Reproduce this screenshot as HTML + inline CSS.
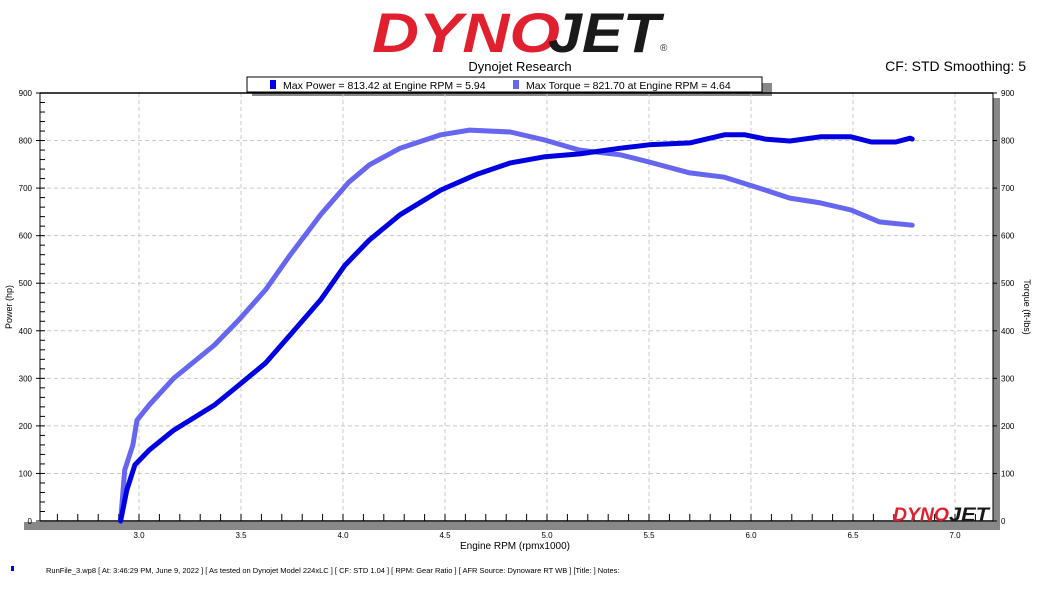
<!DOCTYPE html>
<html><head><meta charset="utf-8"><style>
body{margin:0;background:#fff;width:1041px;height:585px;overflow:hidden;font-family:"Liberation Sans",sans-serif}
svg text{font-family:"Liberation Sans",sans-serif}
</style></head><body>
<svg id="chart" width="1041" height="585">
<g>
<text x="372" y="52" font-size="56" font-weight="bold" font-style="italic" fill="#e0202e" textLength="188" lengthAdjust="spacingAndGlyphs">DYNO</text>
<text x="548" y="52" font-size="56" font-weight="bold" font-style="italic" fill="#1a1a1a" textLength="112" lengthAdjust="spacingAndGlyphs">JET</text>
<text x="660" y="51" font-size="10" fill="#333">®</text>
</g>
<text x="520" y="71" font-size="13" text-anchor="middle">Dynojet Research</text>
<text x="1026" y="71" font-size="14" text-anchor="end">CF: STD Smoothing: 5</text>
<g>
<rect x="252" y="83" width="520" height="13" fill="#888"/>
<rect x="247" y="77" width="515" height="15" fill="#fff" stroke="#000"/>
<rect x="270" y="80" width="6" height="9" fill="#0000ee"/>
<text x="283" y="89" font-size="10.5">Max Power = 813.42 at Engine RPM = 5.94</text>
<rect x="513" y="80" width="6" height="9" fill="#6666f0"/>
<text x="526" y="89" font-size="10.5">Max Torque = 821.70 at Engine RPM = 4.64</text>
</g>
<rect x="24" y="522" width="976" height="8" fill="#888"/>
<rect x="993" y="98" width="7" height="432" fill="#888"/>
<g id="grid"></g>
<g id="axes"></g>
<g id="series"></g>
<g>
<text x="893" y="521" font-size="19" font-weight="bold" font-style="italic" fill="#e0202e" textLength="56" lengthAdjust="spacingAndGlyphs">DYNO</text>
<text x="949" y="521" font-size="19" font-weight="bold" font-style="italic" fill="#1a1a1a" textLength="40" lengthAdjust="spacingAndGlyphs">JET</text>
</g>
<text x="515" y="549" font-size="10" text-anchor="middle">Engine RPM (rpmx1000)</text>
<text transform="translate(12,307) rotate(-90)" font-size="9" text-anchor="middle">Power (hp)</text>
<text transform="translate(1024,307) rotate(90)" font-size="9" text-anchor="middle">Torque (ft-lbs)</text>
<rect x="11" y="566" width="3" height="5" fill="#0000ee"/>
<text x="46" y="573" font-size="7.5">RunFile_3.wp8  [  At:  3:46:29 PM, June 9, 2022  ]  [  As tested on Dynojet Model 224xLC  ]  [  CF:  STD 1.04  ]  [  RPM:  Gear Ratio  ]  [  AFR Source:  Dynoware RT WB  ]  [Title:  ]   Notes:</text>
</svg>
<script>
const xTicks=[3.0,3.5,4.0,4.5,5.0,5.5,6.0,6.5,7.0];
const yTicks=[0,100,200,300,400,500,600,700,800,900];
const powerRpm=[2.91,2.94,2.98,3.05,3.17,3.37,3.49,3.62,3.74,3.89,4.01,4.13,4.28,4.48,4.65,4.82,4.99,5.16,5.36,5.50,5.70,5.87,5.97,6.07,6.19,6.34,6.49,6.59,6.71,6.78,6.79];
const powerHp=[0,65,118,149,191,244,286,332,391,465,538,591,644,696,728,753,766,772,784,791,795,812,812,803,799,808,808,797,797,805,803];
const torqueRpm=[2.91,2.93,2.97,2.99,3.05,3.17,3.37,3.49,3.62,3.74,3.89,4.03,4.13,4.28,4.48,4.62,4.82,4.99,5.16,5.36,5.50,5.70,5.87,6.04,6.19,6.34,6.49,6.63,6.79];
const torqueFtlb=[0,107,160,212,244,300,370,423,486,559,644,713,749,784,812,822,818,801,780,770,755,732,723,700,679,669,654,629,622];
const NS='http://www.w3.org/2000/svg';
const L=40,R=993,T=93,B=521;
const sx=v=>139+(v-3)*204;
const sy=v=>B-(v/900)*(B-T);
function mk(t,a,p){const e=document.createElementNS(NS,t);for(const k in a)e.setAttribute(k,a[k]);p.appendChild(e);return e;}
const grid=document.getElementById('grid'),axes=document.getElementById('axes'),ser=document.getElementById('series');
yTicks.forEach(v=>{
 if(v>0){const g=mk('line',{x1:L,x2:R,y1:sy(v),y2:sy(v),stroke:'#c8c8c8','stroke-dasharray':'4,3'},grid);
 
 }
 const t1=mk('text',{x:L-8,y:sy(v)+3,'font-size':8,'text-anchor':'end'},axes);t1.textContent=v;
 
 
 const t2=mk('text',{x:R+8,y:sy(v)+3,'font-size':8},axes);t2.textContent=v;
 
 
 mk('line',{x1:L-4,x2:L,y1:sy(v),y2:sy(v),stroke:'#000'},axes);
 mk('line',{x1:R,x2:R+4,y1:sy(v),y2:sy(v),stroke:'#000'},axes);
});
for(let v=0;v<900;v+=20){mk('line',{x1:L,x2:L+5,y1:sy(v),y2:sy(v),stroke:'#000'},axes);}
xTicks.forEach(v=>{
 const g=mk('line',{x1:sx(v),x2:sx(v),y1:T,y2:B,stroke:'#c8c8c8','stroke-dasharray':'4,3'},grid);
 
 
 const t=mk('text',{x:sx(v),y:B+17,'font-size':8,'text-anchor':'middle'},axes);t.textContent=v.toFixed(1);
 
 
});
for(let v=2.6;v<=7.15;v+=0.1){mk('line',{x1:sx(v),x2:sx(v),y1:B-7,y2:B,stroke:'#000'},axes);}
mk('line',{x1:L,x2:L,y1:T,y2:B,stroke:'#000'},axes);
mk('line',{x1:R,x2:R,y1:T,y2:B,stroke:'#000'},axes);
mk('line',{x1:L,x2:R,y1:B,y2:B,stroke:'#000','stroke-width':1.5},axes);
mk('line',{x1:L,x2:R,y1:T,y2:T,stroke:'#000','stroke-width':1.5},axes);
function path(xs,ys){return xs.map((x,i)=>(i?'L':'M')+sx(x).toFixed(1)+','+sy(ys[i]).toFixed(1)).join('');}
const tq=mk('path',{d:path(torqueRpm,torqueFtlb),fill:'none',stroke:'#6666f0','stroke-width':5,'stroke-linejoin':'round','stroke-linecap':'round'},ser);


const pw=mk('path',{d:path(powerRpm,powerHp),fill:'none',stroke:'#0000e0','stroke-width':5,'stroke-linejoin':'round','stroke-linecap':'round'},ser);


</script>
</body></html>
